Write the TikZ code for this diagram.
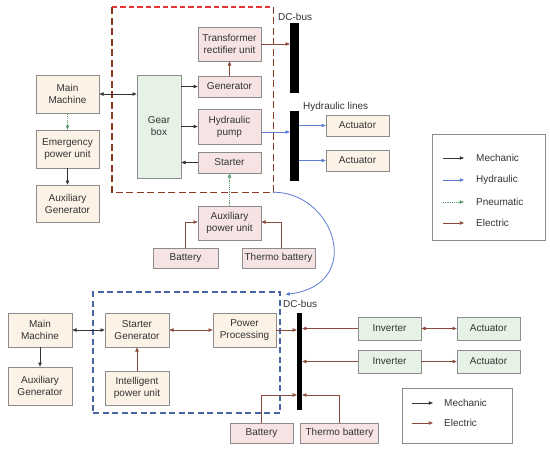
\documentclass[tikz,border=0pt]{standalone}
\usepackage{fontspec}
\setmainfont{Liberation Sans}
\usetikzlibrary{arrows.meta,positioning,calc}
\definecolor{cBeige}{HTML}{FCF2E6}
\definecolor{cPink}{HTML}{F6E4E4}
\definecolor{cGreen}{HTML}{E6F2E6}
\definecolor{cEdge}{HTML}{8C8C8C}
\definecolor{cElec}{HTML}{8B4A3A}
\definecolor{cHyd}{HTML}{5B7BD5}
\definecolor{cPneu}{HTML}{5E9A70}
\definecolor{cRed}{HTML}{E83434}
\definecolor{cBrown}{HTML}{8A3A1E}
\definecolor{cBlue}{HTML}{4A66A6}
\definecolor{cText}{HTML}{333333}

\begin{document}
\begin{tikzpicture}[x=1pt,y=-1pt,>={Triangle[length=4.2pt,width=3.4pt]},
  every node/.style={font=\fontsize{10}{12}\selectfont,text=cText},
  blk/.style={draw=cEdge,line width=0.6pt,inner sep=0pt,align=center,minimum width=63pt},
  beigebox/.style={blk,fill=cBeige},
  pinkbox/.style={blk,fill=cPink},
  greenbox/.style={blk,fill=cGreen},
  busbar/.style={fill=black,inner sep=0pt,minimum width=9pt},
  lbl/.style={anchor=west,inner sep=0pt},
  mech/.style={->,draw=black!80,line width=0.6pt},
  elec/.style={->,draw=cElec,line width=0.6pt},
  hyd/.style={->,draw=cHyd,line width=0.6pt},
  pneu/.style={->,draw=cPneu,line width=0.6pt,dash pattern=on 1.2pt off 1pt},
  frame/.style={line width=1.4pt,dash pattern=on 7pt off 3.5pt,inner sep=0pt}]
  \useasboundingbox (0,0) rectangle (550,450);
  % upper system
  \node[inner sep=0pt,minimum width=161pt,minimum height=185pt] (sys1) at (192.5,99.5) {};
  \draw[frame,draw=cBrown] (sys1.north east) -- (sys1.south east) -- (sys1.south west) -- (sys1.north west);
  \draw[frame,draw=cRed,dash pattern=on 5.5pt off 3pt] (sys1.north west) -- (sys1.north east);
  \node[beigebox,minimum height=38pt] (mm1) at (67.5,94) {Main\\Machine};
  \node[beigebox,minimum height=38pt] (epu) at (67.5,149) {Emergency\\power unit};
  \node[beigebox,minimum height=37pt] (ag1) at (67.5,203.5) {Auxiliary\\Generator};
  \node[greenbox,minimum width=44pt,minimum height=103pt] (gear) at (159,126.5) {Gear\\box};
  \node[pinkbox,minimum height=34pt] (tru) at (229.5,44) {Transformer\\rectifier unit};
  \node[pinkbox,minimum height=21pt] (gen) at (229.5,86.5) {Generator};
  \node[pinkbox,minimum height=35pt] (hp) at (229.5,126.5) {Hydraulic\\pump};
  \node[pinkbox,minimum height=21pt] (st) at (229.5,162.5) {Starter};
  \node[busbar,minimum height=70pt] (bus1) at (294.5,58) {};
  \node[busbar,minimum height=70pt] (hbus) at (294.5,146) {};
  \node[lbl] (dcl1) at (278,17) {DC-bus};
  \node[lbl] (hll) at (303,107) {Hydraulic lines};
  \node[beigebox,minimum height=21pt] (act1) at (357.5,125.5) {Actuator};
  \node[beigebox,minimum height=21pt] (act2) at (357.5,160.5) {Actuator};
  \node[pinkbox,minimum height=34pt] (apu) at (229.5,223) {Auxiliary\\power unit};
  \node[pinkbox,minimum width=65pt,minimum height=20pt] (bat1) at (185.5,258) {Battery};
  \node[pinkbox,minimum width=73pt,minimum height=20pt] (tbat1) at (278.5,258) {Thermo battery};
  \draw[mech,<->] (mm1.east) -- (mm1.east -| gear.west);
  \draw[pneu] (mm1.south) -- (epu.north);
  \draw[mech] (epu.south) -- (ag1.north);
  \draw[mech] (gen.west -| gear.east) -- (gen.west);
  \draw[mech] (hp.west -| gear.east) -- (hp.west);
  \draw[mech] (st.west) -- (st.west -| gear.east);
  \draw[elec] (gen.north) -- (tru.south);
  \draw[elec] (tru.east) -- (tru.east -| bus1.west);
  \draw[hyd] ([yshift=-5.5pt]hp.east) -- ([yshift=-5.5pt]hp.east -| hbus.west);
  \foreach \a in {act1,act2} \draw[hyd] (\a.west -| hbus.east) -- (\a.west);
  \draw[pneu] (apu.north) -- (st.south);
  \draw[elec] (bat1.north) |- ([yshift=1pt]apu.west);
  \draw[elec] ([xshift=3pt]tbat1.north) |- ([yshift=1pt]apu.east);
  \node[draw=cEdge,line width=0.6pt,minimum width=113pt,minimum height=106pt] (leg1) at (488.5,187) {};
  \foreach \t/\s/\y in {Mechanic/mech/158,Hydraulic/hyd/180,Pneumatic/pneu/202,Electric/elec/223}{
    \node[lbl] (a\t) at (476,\y) {\t};
    \draw[\s] ([xshift=-33pt]a\t.west) -- ([xshift=-12pt]a\t.west);
  }
  % lower system
  \node[frame,line width=1.2pt,draw=cBlue,dash pattern=on 6pt off 3.5pt,minimum width=187pt,minimum height=121pt] (sys2) at (186.5,352.5) {};
  \draw[hyd,line width=0.8pt] (sys1.south east) .. controls (335,192) and (365,285) .. ([shift={(5pt,-3pt)}]sys2.north east);
  \node[beigebox,minimum width=64pt,minimum height=34pt] (mm2) at (40,330) {Main\\Machine};
  \node[beigebox,minimum width=64pt,minimum height=38pt] (ag2) at (40,386) {Auxiliary\\Generator};
  \node[beigebox,minimum width=64pt,minimum height=34pt] (sg) at (137,330) {Starter\\Generator};
  \node[beigebox,minimum width=64pt,minimum height=34pt] (ipu) at (137,388) {Intelligent\\power unit};
  \node[beigebox,minimum height=34pt] (pp) at (244.5,330) {Power\\Processing};
  \node[busbar,minimum width=5pt,minimum height=97pt] (bus2) at (299.5,361.5) {};
  \node[lbl] (dcl2) at (283,304) {DC-bus};
  \node[greenbox,minimum height=23pt] (inv1) at (389.5,328.5) {Inverter};
  \node[greenbox,minimum height=23pt] (inv2) at (389.5,361.5) {Inverter};
  \node[greenbox,minimum height=23pt] (act3) at (488.5,328.5) {Actuator};
  \node[greenbox,minimum height=23pt] (act4) at (488.5,361.5) {Actuator};
  \node[pinkbox,minimum height=20pt] (bat2) at (261.5,433) {Battery};
  \node[pinkbox,minimum width=78pt,minimum height=20pt] (tbat2) at (339.5,433) {Thermo battery};
  \coordinate (bj) at (299.5,395);
  \draw[mech,<->] (mm2.east) -- (sg.west);
  \draw[mech] (mm2.south) -- (ag2.north);
  \draw[elec] (ipu.north) -- (sg.south);
  \draw[elec,<->] (sg.east) -- (pp.west);
  \draw[elec] (pp.east) -- (pp.east -| bus2.west);
  \foreach \i in {inv1,inv2} \draw[elec] (\i.west) -- (\i.west -| bus2.east);
  \draw[elec,<->] (inv1.east) -- (act3.west);
  \draw[elec] (inv2.east) -- (act4.west);
  \draw[elec] (bat2.north) |- (bj -| bus2.west);
  \draw[elec] (tbat2.north) |- (bj -| bus2.east);
  \node[draw=cEdge,line width=0.6pt,minimum width=110pt,minimum height=55pt] (leg2) at (457,415.5) {};
  \foreach \t/\s/\y in {Mechanic/mech/403,Electric/elec/423}{
    \node[lbl] (b\t) at (444,\y) {\t};
    \draw[\s] ([xshift=-32pt]b\t.west) -- ([xshift=-11pt]b\t.west);
  }
\end{tikzpicture}
\end{document}
